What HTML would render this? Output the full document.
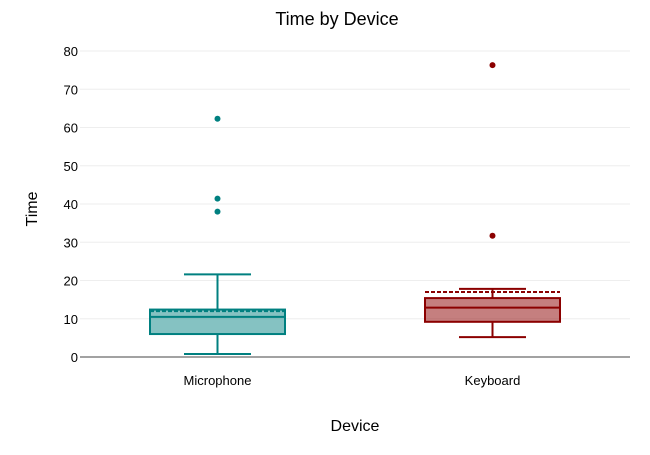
<!DOCTYPE html>
<html><head><meta charset="utf-8"><style>
body{margin:0;background:#fff;font-family:"Liberation Sans",Arial,sans-serif}
</style></head><body>
<svg id="chart" width="650" height="450" xmlns="http://www.w3.org/2000/svg" font-family="Liberation Sans, Arial, sans-serif">
<text x="337" y="25" text-anchor="middle" font-size="18">Time by Device</text>
<text x="355" y="431" text-anchor="middle" font-size="16">Device</text>
<text transform="translate(37,209) rotate(-90)" text-anchor="middle" font-size="16">Time</text>
<g id="grid"></g><g id="marks"></g>
</svg>
<script>
const categories=["Microphone","Keyboard"];
const q1=[6.0,9.2];
const medians=[10.5,12.9];
const q3=[12.4,15.4];
const whiskerLow=[0.8,5.2];
const whiskerHigh=[21.6,17.8];
const means=[12.0,17.0];
const outliers=[[62.3,41.4,38.0],[76.3,31.7]];
const yTicks=[0,10,20,30,40,50,60,70,80];
const strokes=["#008080","#8b0000"];
const fills=["rgba(0,128,128,0.48)","rgba(139,0,0,0.5)"];
const NS="http://www.w3.org/2000/svg";
const left=80,right=630,y0=357,yTop=51,yMax=80;
const y=v=>y0-(v/yMax)*(y0-yTop);
const band=(right-left)/categories.length;
const xc=i=>left+band*(i+0.5);
const bw=135,cw=67;
function mk(tag,attrs,parent){const e=document.createElementNS(NS,tag);for(const k in attrs)e.setAttribute(k,attrs[k]);parent.appendChild(e);return e;}
const grid=document.getElementById('grid'),marks=document.getElementById('marks');
yTicks.forEach(t=>{
 const l=mk('line',{x1:left,x2:right,y1:y(t),y2:y(t),stroke:t===0?'#444':'#eeeeee','stroke-width':1},grid);
 
 
 const tx=mk('text',{x:left-2,y:y(t)+5,'text-anchor':'end','font-size':13},grid);
 tx.textContent=t;
 
 
});
categories.forEach((c,i)=>{
 const cx=xc(i),s=strokes[i];
 const g=mk('g',{},marks);
 
 
 mk('line',{x1:cx,x2:cx,y1:y(q3[i]),y2:y(whiskerHigh[i]),stroke:s,'stroke-width':2},g);
 mk('line',{x1:cx,x2:cx,y1:y(q1[i]),y2:y(whiskerLow[i]),stroke:s,'stroke-width':2},g);
 mk('line',{x1:cx-cw/2,x2:cx+cw/2,y1:y(whiskerHigh[i]),y2:y(whiskerHigh[i]),stroke:s,'stroke-width':2},g);
 mk('line',{x1:cx-cw/2,x2:cx+cw/2,y1:y(whiskerLow[i]),y2:y(whiskerLow[i]),stroke:s,'stroke-width':2},g);
 mk('rect',{x:cx-bw/2,y:y(q3[i]),width:bw,height:y(q1[i])-y(q3[i]),fill:fills[i],stroke:s,'stroke-width':2},g);
 mk('line',{x1:cx-bw/2,x2:cx+bw/2,y1:y(medians[i]),y2:y(medians[i]),stroke:s,'stroke-width':2},g);
 const m=mk('line',{x1:cx-bw/2,x2:cx+bw/2,y1:y(means[i]),y2:y(means[i]),stroke:s,'stroke-width':2,'stroke-dasharray':'4,2'},g);
 
 
 outliers[i].forEach(o=>{
  const p=mk('circle',{cx:cx,cy:y(o),r:3,fill:s},g);
  
  
 });
 const t=mk('text',{x:cx,y:385,'text-anchor':'middle','font-size':13},marks);
 t.textContent=c;
 
 
});
</script>
</body></html>
